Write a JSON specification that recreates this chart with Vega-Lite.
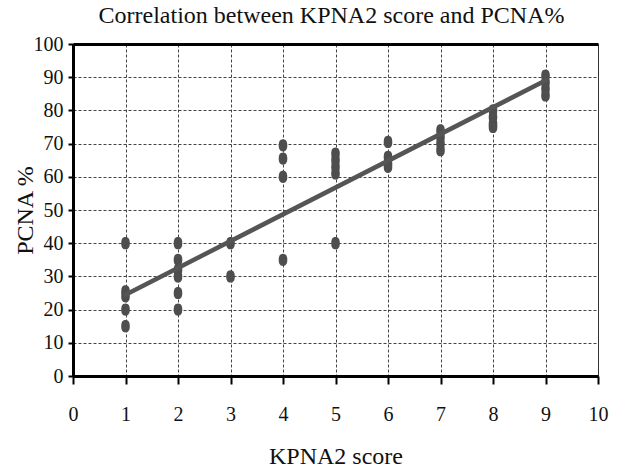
{
  "$schema": "https://vega.github.io/schema/vega-lite/v6.json",
  "width": 525,
  "height": 332,
  "autosize": {"type": "none"},
  "padding": {"left": 73, "top": 44, "right": 26, "bottom": 93},
  "background": "white",
  "config": {
    "font": "Liberation Serif",
    "view": {"stroke": "#333", "strokeWidth": 1},
    "title": {"font": "Liberation Serif", "fontSize": 24, "fontWeight": "normal", "color": "#111"}
  },
  "title": {"text": "Correlation between KPNA2 score and PCNA%", "anchor": "middle", "offset": 6, "dx": -4},
  "datasets": {
    "pts": [
      {"score": 1, "pcna": 40}, {"score": 1, "pcna": 25.5}, {"score": 1, "pcna": 24}, {"score": 1, "pcna": 20}, {"score": 1, "pcna": 15},
      {"score": 2, "pcna": 40}, {"score": 2, "pcna": 35}, {"score": 2, "pcna": 32}, {"score": 2, "pcna": 30}, {"score": 2, "pcna": 25}, {"score": 2, "pcna": 20},
      {"score": 3, "pcna": 40}, {"score": 3, "pcna": 30},
      {"score": 4, "pcna": 69.5}, {"score": 4, "pcna": 65.5}, {"score": 4, "pcna": 60}, {"score": 4, "pcna": 35},
      {"score": 5, "pcna": 67}, {"score": 5, "pcna": 65}, {"score": 5, "pcna": 63}, {"score": 5, "pcna": 61}, {"score": 5, "pcna": 40},
      {"score": 6, "pcna": 70.5}, {"score": 6, "pcna": 66}, {"score": 6, "pcna": 64}, {"score": 6, "pcna": 63},
      {"score": 7, "pcna": 74}, {"score": 7, "pcna": 72}, {"score": 7, "pcna": 70}, {"score": 7, "pcna": 68},
      {"score": 8, "pcna": 80}, {"score": 8, "pcna": 78}, {"score": 8, "pcna": 76}, {"score": 8, "pcna": 75},
      {"score": 9, "pcna": 90.5}, {"score": 9, "pcna": 88.5}, {"score": 9, "pcna": 86.5}, {"score": 9, "pcna": 84.5}
    ],
    "fit": [
      {"score": 1, "pcna": 24.5},
      {"score": 9, "pcna": 89}
    ]
  },
  "encoding": {
    "x": {
      "field": "score", "type": "quantitative",
      "scale": {"domain": [0, 10], "nice": false, "zero": false},
      "axis": {
        "title": "KPNA2 score",
        "titleFont": "Liberation Serif", "titleFontSize": 24, "titleFontWeight": "normal", "titleColor": "#111",
        "titlePadding": 20,
        "values": [0, 1, 2, 3, 4, 5, 6, 7, 8, 9, 10],
        "labelFont": "Liberation Serif", "labelFontSize": 20, "labelColor": "#111",
        "labelPadding": 20, "labelFlush": false, "labelOverlap": false,
        "tickColor": "#000", "tickSize": 8, "tickWidth": 2,
        "domainColor": "#000", "domainWidth": 3,
        "grid": true,
        "gridColor": "#444", "gridDash": [3, 2], "gridWidth": 1,
        "gridOpacity": {"condition": {"test": "datum.value == 0 || datum.value == 10", "value": 0}, "value": 1}
      }
    },
    "y": {
      "field": "pcna", "type": "quantitative",
      "scale": {"domain": [0, 100], "nice": false},
      "axis": {
        "title": "PCNA %",
        "titleFont": "Liberation Serif", "titleFontSize": 24, "titleFontWeight": "normal", "titleColor": "#111",
        "titlePadding": -4,
        "values": [0, 10, 20, 30, 40, 50, 60, 70, 80, 90, 100],
        "labelFont": "Liberation Serif", "labelFontSize": 20, "labelColor": "#111",
        "labelPadding": 5, "labelFlush": false, "labelOverlap": false,
        "tickColor": "#000", "tickSize": 5, "tickWidth": 2,
        "domainColor": "#000", "domainWidth": 3,
        "grid": true,
        "gridColor": "#444", "gridDash": [3, 2], "gridWidth": 1,
        "gridOpacity": {"condition": {"test": "datum.value == 0 || datum.value == 100", "value": 0}, "value": 1}
      }
    }
  },
  "resolve": {"axis": {"x": "independent"}},
  "layer": [
    {
      "data": {"name": "pts"},
      "mark": {
        "type": "point",
        "filled": true,
        "opacity": 1,
        "color": "#4e4e4e",
        "size": 150,
        "shape": "M0,-1 C0.55,-1 0.7,-0.55 0.7,0 C0.7,0.55 0.55,1 0,1 C-0.55,1 -0.7,0.55 -0.7,0 C-0.7,-0.55 -0.55,-1 0,-1 Z"
      }
    },
    {
      "data": {"name": "fit"},
      "mark": {"type": "line", "color": "#555", "strokeWidth": 4.5, "strokeCap": "round"},
      "encoding": {
        "x": {
          "field": "score", "type": "quantitative",
          "axis": {"orient": "top", "title": null, "labels": false, "ticks": false, "grid": false, "domainColor": "#000", "domainWidth": 3}
        }
      }
    }
  ]
}
